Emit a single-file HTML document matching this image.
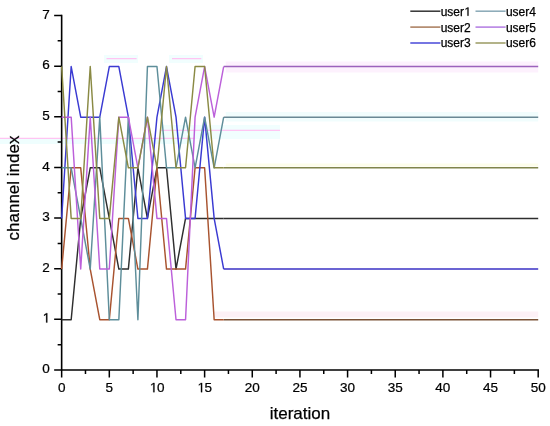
<!DOCTYPE html>
<html><head><meta charset="utf-8"><style>
html,body{margin:0;padding:0;background:#fff;}
body{width:550px;height:426px;overflow:hidden;}
svg{display:block;font-family:"Liberation Sans",sans-serif;will-change:transform;}
</style></head><body>
<svg width="550" height="426" viewBox="0 0 550 426">
<rect width="550" height="426" fill="#fff"/>
<rect x="160" y="125" width="120" height="14" fill="#f1fefe"/>
<rect x="0" y="139" width="195" height="5" fill="#effefe"/>
<rect x="104" y="55" width="34" height="8" fill="#f1fefe"/>
<rect x="169" y="55" width="34" height="8" fill="#f1fefe"/>
<rect x="214.0" y="311.5" width="324.2" height="6.0" fill="#fdf1f6"/><rect x="225.7" y="112" width="312.5" height="9.5" fill="#f1fdfd"/><rect x="225.7" y="61.5" width="312.5" height="11.0" fill="#fdf1fd"/><rect x="225.7" y="163.5" width="312.5" height="3.0" fill="#fdfdea"/>
<path d="M0 138.3H195M160 130.3H280M106.5 58.7H136.6M172 58.7H201.3" stroke="#ffc4f2" stroke-width="1.2" fill="none"/>
<g stroke="#000" stroke-width="1.6" fill="none">
<path d="M61.65 15.52V370.0H538.20" stroke-linecap="square"/>
<path d="M54.15 370.00H61.65M54.15 319.36H61.65M54.15 268.72H61.65M54.15 218.08H61.65M54.15 167.44H61.65M54.15 116.80H61.65M54.15 66.16H61.65M54.15 15.52H61.65M57.65 344.68H61.65M57.65 294.04H61.65M57.65 243.40H61.65M57.65 192.76H61.65M57.65 142.12H61.65M57.65 91.48H61.65M57.65 40.84H61.65M61.65 370.0V377.40M109.31 370.0V377.40M156.96 370.0V377.40M204.62 370.0V377.40M252.27 370.0V377.40M299.93 370.0V377.40M347.58 370.0V377.40M395.24 370.0V377.40M442.89 370.0V377.40M490.55 370.0V377.40M538.20 370.0V377.40M85.48 370.0V374.00M133.13 370.0V374.00M180.79 370.0V374.00M228.44 370.0V374.00M276.10 370.0V374.00M323.75 370.0V374.00M371.41 370.0V374.00M419.06 370.0V374.00M466.72 370.0V374.00M514.37 370.0V374.00" stroke-width="1.5"/>
</g>
<g fill="none" stroke-width="1.45" stroke-linejoin="round">
<path d="M223.68 218.43H538.20" stroke="#2e2e2e"/><path d="M223.68 319.71H538.20" stroke="#7a5236"/><path d="M223.68 269.07H538.20" stroke="#3a30c4"/><path d="M223.68 117.15H538.20" stroke="#6a8894"/><path d="M223.68 66.51H538.20" stroke="#9c62bc"/><path d="M223.68 167.79H538.20" stroke="#80844c"/>
<polyline points="61.65,319.71 71.18,319.71 80.71,218.43 90.24,167.79 99.77,167.79 109.31,218.43 118.84,269.07 128.37,269.07 137.90,167.79 147.43,218.43 156.96,167.79 166.49,167.79 176.02,269.07 185.55,218.43 195.08,218.43 204.62,218.43 214.15,218.43 223.68,218.43" stroke="#2e2e2e"/><polyline points="61.65,269.07 71.18,167.79 80.71,167.79 90.24,269.07 99.77,319.71 109.31,319.71 118.84,218.43 128.37,218.43 137.90,269.07 147.43,269.07 156.96,167.79 166.49,269.07 176.02,269.07 185.55,269.07 195.08,167.79 204.62,167.79 214.15,319.71 223.68,319.71" stroke="#a8532f"/><polyline points="61.65,218.43 71.18,66.51 80.71,117.15 90.24,117.15 99.77,117.15 109.31,66.51 118.84,66.51 128.37,117.15 137.90,218.43 147.43,218.43 156.96,117.15 166.49,66.51 176.02,117.15 185.55,218.43 195.08,218.43 204.62,117.15 214.15,218.43 223.68,269.07" stroke="#3a3ad2"/><polyline points="61.65,167.79 71.18,167.79 80.71,218.43 90.24,269.07 99.77,117.15 109.31,319.71 118.84,319.71 128.37,117.15 137.90,319.71 147.43,66.51 156.96,66.51 166.49,167.79 176.02,167.79 185.55,117.15 195.08,167.79 204.62,117.15 214.15,167.79 223.68,117.15" stroke="#5e8e9a"/><polyline points="61.65,117.15 71.18,117.15 80.71,269.07 90.24,117.15 99.77,269.07 109.31,269.07 118.84,117.15 128.37,117.15 137.90,167.79 147.43,117.15 156.96,218.43 166.49,218.43 176.02,319.71 185.55,319.71 195.08,117.15 204.62,66.51 214.15,117.15 223.68,66.51" stroke="#bc60da"/><polyline points="61.65,66.51 71.18,218.43 80.71,218.43 90.24,66.51 99.77,218.43 109.31,218.43 118.84,117.15 128.37,167.79 137.90,167.79 147.43,117.15 156.96,167.79 166.49,66.51 176.02,167.79 185.55,167.79 195.08,66.51 204.62,66.51 214.15,167.79 223.68,167.79" stroke="#8a8a44"/>
</g>
<g fill="#000" stroke="#000" stroke-width="0.24" font-size="13.5"><text x="49.8" y="373.20" text-anchor="end">0</text><path d="M582 0L582 1237L264 1010L264 1180L597 1409L763 1409L763 0Z" transform="translate(42.29 322.56) scale(0.006592 -0.006592)" stroke-width="36.4"/><text x="49.8" y="271.92" text-anchor="end">2</text><text x="49.8" y="221.28" text-anchor="end">3</text><text x="49.8" y="170.64" text-anchor="end">4</text><text x="49.8" y="120.00" text-anchor="end">5</text><text x="49.8" y="69.36" text-anchor="end">6</text><text x="49.8" y="18.72" text-anchor="end">7</text><text x="61.65" y="392.2" text-anchor="middle">0</text><text x="109.31" y="392.2" text-anchor="middle">5</text><path d="M582 0L582 1237L264 1010L264 1180L597 1409L763 1409L763 0Z" transform="translate(149.45 392.20) scale(0.006592 -0.006592)" stroke-width="36.4"/><text x="156.96" y="392.2">0</text><path d="M582 0L582 1237L264 1010L264 1180L597 1409L763 1409L763 0Z" transform="translate(197.11 392.20) scale(0.006592 -0.006592)" stroke-width="36.4"/><text x="204.62" y="392.2">5</text><text x="252.27" y="392.2" text-anchor="middle">20</text><text x="299.93" y="392.2" text-anchor="middle">25</text><text x="347.58" y="392.2" text-anchor="middle">30</text><text x="395.24" y="392.2" text-anchor="middle">35</text><text x="442.89" y="392.2" text-anchor="middle">40</text><text x="490.55" y="392.2" text-anchor="middle">45</text><text x="538.20" y="392.2" text-anchor="middle">50</text></g>
<g fill="none" stroke-width="1.5"><path d="M410.3 11.2H440.4" stroke="#333333"/><path d="M410.3 27.1H440.4" stroke="#a87a5a"/><path d="M410.3 43.0H440.4" stroke="#4848d8"/><path d="M475.5 11.2H505.6" stroke="#88a8b6"/><path d="M475.5 27.1H505.6" stroke="#b27ae2"/><path d="M475.5 43.0H505.6" stroke="#9a9a62"/></g>
<g fill="#000" stroke="#000" stroke-width="0.25" font-size="12"><text x="440.7" y="15.7">user</text><path d="M582 0L582 1237L264 1010L264 1180L597 1409L763 1409L763 0Z" transform="translate(464.04 15.70) scale(0.005859 -0.005859)" stroke-width="42.7"/><text x="440.7" y="31.6">user2</text><text x="440.7" y="47.4">user3</text><text x="505.9" y="15.7">user4</text><text x="505.9" y="31.6">user5</text><text x="505.9" y="47.4">user6</text></g>
<g fill="#000" stroke="#000" stroke-width="0.25" font-size="17">
<text x="300" y="419" text-anchor="middle">iteration</text>
<text transform="translate(19.2 188) rotate(-90)" text-anchor="middle">channel index</text>
</g>
</svg>
</body></html>
